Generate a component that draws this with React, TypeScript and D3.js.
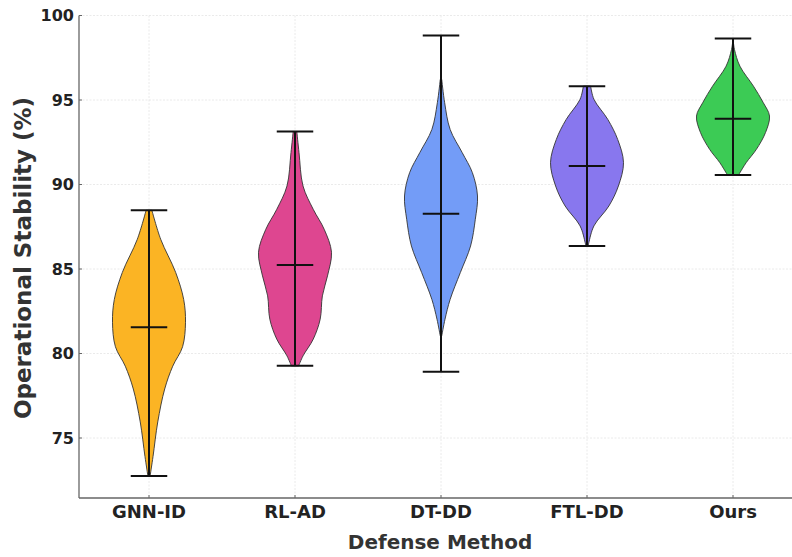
import { useEffect, useRef } from 'react';
import * as d3 from 'd3';

// categories and summary values
const methods = ['GNN-ID', 'RL-AD', 'DT-DD', 'FTL-DD', 'Ours'];
const colors = ['#fbb424', '#de4690', '#739cf7', '#8877ee', '#3ccb55'];
const mins = [72.75, 79.27, 78.92, 86.36, 90.56];
const maxs = [88.47, 93.13, 98.82, 95.82, 98.64];
const medians = [81.56, 85.24, 88.27, 91.1, 93.89];

// violin outlines: sampled values and relative density (1 = widest)
const gnnValues = [72.75, 73.9, 75.95, 77.9, 79.25, 80.4, 81.85, 83.2, 84.8, 86.76, 88.47];
const gnnDensity = [0.03, 0.11, 0.24, 0.43, 0.65, 0.92, 1.0, 0.95, 0.73, 0.32, 0.08];
const rlValues = [79.27, 79.86, 80.85, 82.03, 83.41, 84.59, 85.99, 87.35, 88.53, 89.91, 91.89, 93.13];
const rlDensity = [0.1, 0.22, 0.5, 0.69, 0.75, 0.89, 1.0, 0.8, 0.5, 0.22, 0.11, 0.05];
const dtValues = [81.04, 82.03, 83.2, 84.79, 86.36, 87.94, 89.32, 90.7, 91.89, 93.26, 94.84, 96.22];
const dtDensity = [0.02, 0.11, 0.25, 0.53, 0.81, 0.94, 1.0, 0.86, 0.58, 0.25, 0.1, 0.02];
const ftlValues = [86.36, 86.56, 87.55, 88.73, 89.91, 91.29, 92.67, 93.85, 95.04, 95.82];
const ftlDensity = [0.03, 0.05, 0.19, 0.6, 0.86, 1.0, 0.84, 0.57, 0.19, 0.1];
const oursValues = [90.56, 90.7, 91.29, 92.08, 93.07, 94.05, 94.84, 95.82, 97.0, 97.99, 98.64];
const oursDensity = [0.15, 0.19, 0.36, 0.64, 0.89, 1.0, 0.83, 0.56, 0.19, 0.04, 0.0];

const violinValues = [gnnValues, rlValues, dtValues, ftlValues, oursValues];
const violinDensity = [gnnDensity, rlDensity, dtDensity, ftlDensity, oursDensity];

const yTicks = [75, 80, 85, 90, 95, 100];

export default function App() {
  const svgRef = useRef<SVGSVGElement>(null);

  useEffect(() => {
    const width = 792;
    const height = 557;
    const left = 79;
    const top = 15.5;
    const bottom = 498;
    const font = 'DejaVu Sans, sans-serif';

    const svg = d3.select(svgRef.current);
    svg.selectAll('*').remove();
    svg.attr('width', width).attr('height', height);

    const x = d3.scaleLinear().domain([1, 5]).range([149, 733]);
    const y = d3.scaleLinear().domain([71.45, 100]).range([bottom, top]);
    const halfWidth = (x(2) - x(1)) * 0.25;

    // grid
    const grid = svg.append('g').attr('stroke', '#e4e4e4').attr('stroke-width', 0.8).attr('stroke-dasharray', '2,1.5');
    yTicks.forEach(t => {
      grid.append('line').attr('x1', left).attr('x2', width).attr('y1', y(t)).attr('y2', y(t));
    });
    methods.forEach((_, i) => {
      grid.append('line').attr('x1', x(i + 1)).attr('x2', x(i + 1)).attr('y1', top).attr('y2', bottom);
    });

    // violins
    methods.forEach((_, i) => {
      const pts = violinValues[i].map((v, j) => ({ v, w: violinDensity[i][j] }));
      const cx = x(i + 1);
      const area = d3.area<{ v: number; w: number }>()
        .y(d => y(d.v))
        .x0(d => cx - d.w * halfWidth)
        .x1(d => cx + d.w * halfWidth)
        .curve(d3.curveCatmullRom);
      svg.append('path')
        .attr('d', area(pts))
        .attr('fill', colors[i])
        .attr('stroke', '#333')
        .attr('stroke-width', 0.9);

      const g = svg.append('g').attr('stroke', '#111').attr('stroke-width', 2);
      g.append('line').attr('x1', cx).attr('x2', cx).attr('y1', y(mins[i])).attr('y2', y(maxs[i]));
      [mins[i], maxs[i], medians[i]].forEach(v => {
        g.append('line')
          .attr('x1', cx - halfWidth / 2).attr('x2', cx + halfWidth / 2)
          .attr('y1', y(v)).attr('y2', y(v));
      });
    });

    // spines
    svg.append('line').attr('x1', left).attr('x2', left).attr('y1', top).attr('y2', bottom)
      .attr('stroke', '#666').attr('stroke-width', 1.3);
    svg.append('line').attr('x1', left).attr('x2', width).attr('y1', bottom).attr('y2', bottom)
      .attr('stroke', '#666').attr('stroke-width', 1.3);

    // y ticks
    yTicks.forEach(t => {
      svg.append('line').attr('x1', left).attr('x2', left + 3).attr('y1', y(t)).attr('y2', y(t))
        .attr('stroke', '#666');
      svg.append('text')
        .attr('x', left - 5).attr('y', y(t)).attr('dy', '0.36em')
        .attr('text-anchor', 'end')
        .style('font-family', font).style('font-size', '16px').style('font-weight', 'bold')
        .style('fill', '#222')
        .text(t);
    });

    // x ticks
    methods.forEach((m, i) => {
      svg.append('line').attr('x1', x(i + 1)).attr('x2', x(i + 1)).attr('y1', bottom).attr('y2', bottom - 3)
        .attr('stroke', '#666');
      svg.append('text')
        .attr('x', x(i + 1)).attr('y', 518)
        .attr('text-anchor', 'middle')
        .style('font-family', font).style('font-size', '18px').style('font-weight', 'bold')
        .style('fill', '#222')
        .text(m);
    });

    svg.append('text')
      .attr('x', 440).attr('y', 549)
      .attr('text-anchor', 'middle')
      .style('font-family', font).style('font-size', '20px').style('font-weight', 'bold')
      .style('fill', '#333')
      .text('Defense Method');

    svg.append('text')
      .attr('transform', 'translate(31, 258) rotate(-90)')
      .attr('text-anchor', 'middle')
      .style('font-family', font).style('font-size', '23px').style('font-weight', 'bold')
      .style('fill', '#333')
      .text('Operational Stability (%)');
  }, []);

  return (
    <div style={{ position: 'absolute', left: 0, top: 0 }}>
      <svg ref={svgRef} style={{ display: 'block', background: '#fff' }}></svg>
    </div>
  );
}
